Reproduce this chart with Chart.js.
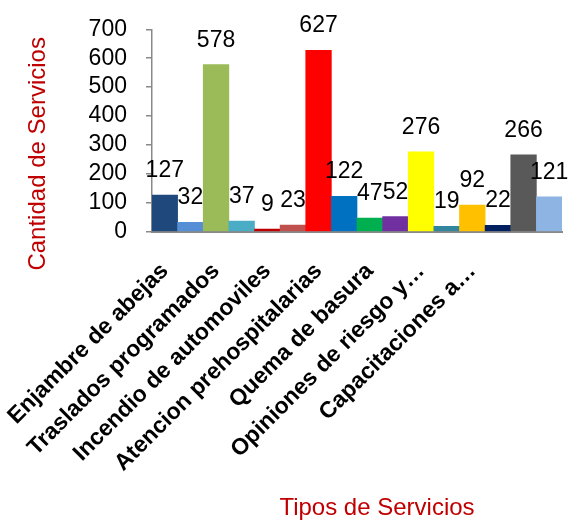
<!DOCTYPE html>
<html>
<head>
<meta charset="utf-8">
<script src="https://cdn.jsdelivr.net/npm/chart.js@4.4.0/dist/chart.umd.min.js"></script>
<style>
html,body{margin:0;padding:0;background:#ffffff;}
#wrap{width:568px;height:523px;position:relative;}
</style>
</head>
<body>
<div id="wrap"><canvas id="c"></canvas></div>
<script>
// Category labels (only every other category is labelled in the reference)
const categories = [
  "Enjambre de abejas", "",
  "Traslados programados", "",
  "Incendio de automoviles", "",
  "Atencion prehospitalarias", "",
  "Quema de basura", "",
  "Opiniones de riesgo y…", "",
  "Capacitaciones a…", "",
  "", ""
];
// Service counts
const values = [127, 32, 578, 37, 9, 23, 627, 122, 47, 52, 276, 19, 92, 22, 266, 121];
// Bar colours
const colors = [
  "#1F497D", "#558ED5", "#9BBB59", "#4BACC6",
  "#C00000", "#C0504D", "#FF0000", "#0070C0",
  "#00B050", "#7030A0", "#FFFF00", "#31859C",
  "#FFC000", "#002060", "#595959", "#8EB4E3"
];
// Y axis range
const yMin = 0, yMax = 700, yStep = 100;
const yTitle = "Cantidad de Servicios";
const xTitle = "Tipos de Servicios";

const FONT = "Liberation Sans";
Chart.defaults.font.family = FONT;

const valueLabels = {
  id: "valueLabels",
  afterDatasetsDraw(chart) {
    const ctx = chart.ctx;
    const meta = chart.getDatasetMeta(0);
    ctx.save();
    ctx.font = '23px "' + FONT + '"';
    ctx.fillStyle = "#000000";
    ctx.textAlign = "center";
    ctx.textBaseline = "alphabetic";
    meta.data.forEach((bar, i) => {
      ctx.fillText(String(values[i]), bar.x, bar.y - 18);
    });
    ctx.restore();
  }
};

new Chart(document.getElementById("c"), {
  type: "bar",
  data: {
    labels: categories,
    datasets: [{
      data: values,
      backgroundColor: colors,
      borderWidth: 0,
      barPercentage: 1,
      categoryPercentage: 1
    }]
  },
  options: {
    responsive: true,
    maintainAspectRatio: false,
    animation: false,
    devicePixelRatio: 1,
    layout: { padding: { top: -59.6, bottom: 0, left: 20, right: 6 } },
    plugins: {
      legend: { display: false },
      tooltip: { enabled: false },
      title: { display: false }
    },
    scales: {
      x: {
        type: "category",
        offset: true,
        grid: { display: true, drawOnChartArea: false, drawTicks: true, tickLength: 46, color: "rgba(0,0,0,0)" },
        border: { display: true, color: "#898989", width: 2 },
        ticks: {
          autoSkip: false,
          minRotation: 45,
          maxRotation: 45,
          padding: -20,
          color: "#000000",
          font: { family: FONT, size: 23, weight: "bold" },
          callback: (v, i) => categories[i]
        },
        title: {
          display: true,
          text: "      " + xTitle,
          color: "#C00000",
          font: { family: FONT, size: 24 },
          padding: { top: 300, bottom: 0 }
        }
      },
      y: {
        min: yMin,
        max: yMax,
        ticks: { autoSkip: false, stepSize: yStep, padding: 19, color: "#000000", font: { family: FONT, size: 23, lineHeight: 0.896 } },
        grid: { display: true, drawOnChartArea: false, drawTicks: true, tickLength: 6, color: "#898989", lineWidth: 1.5 },
        border: { display: true, color: "#898989", width: 1.5 },
        title: {
          display: true,
          text: yTitle + "       ",
          color: "#C00000",
          font: { family: FONT, size: 24 },
          padding: { top: 4, bottom: 16.8 }
        }
      }
    }
  },
  plugins: [valueLabels]
});
</script>
</body>
</html>
